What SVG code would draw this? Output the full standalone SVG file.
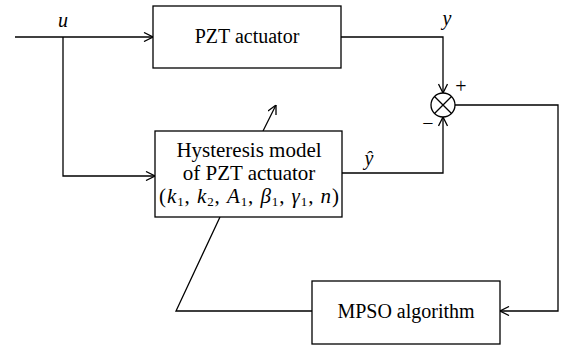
<svg xmlns="http://www.w3.org/2000/svg" width="567" height="347" viewBox="0 0 567 347">
<defs>
<marker id="arr" viewBox="0 0 10 10" refX="10" refY="5" markerWidth="10" markerHeight="10" markerUnits="userSpaceOnUse" orient="auto">
<path d="M1,0.5 L10,5 L1,9.5" fill="none" stroke="#000" stroke-width="1.3"/>
</marker>
</defs>
<style>
.box{fill:#fff;stroke:#000;stroke-width:1.3}
.ln{fill:none;stroke:#000;stroke-width:1.3}
.t{font-family:"Liberation Serif","Times New Roman",serif;font-size:20px;fill:#000;text-anchor:middle}
.h{font-size:21px}
.i{font-style:italic}
.s{font-size:13px}
</style>
<g id="connectors">
<path class="ln" d="M15,37 H153" marker-end="url(#arr)"/>
<path class="ln" d="M63,37 V176 H155" marker-end="url(#arr)"/>
<path class="ln" d="M341,37 H443 V93" marker-end="url(#arr)"/>
<path class="ln" d="M342,173 H443 V117" marker-end="url(#arr)"/>
<path class="ln" d="M455,105 H558 V311 H500" marker-end="url(#arr)"/>
<path class="ln" d="M312,311 H176 L220,217"/>
<path class="ln" d="M263,131 L276,105" marker-end="url(#arr)"/>
</g>
<g id="pzt">
<rect class="box" x="153" y="6" width="188" height="62"/>
<text class="t" x="247" y="43">PZT actuator</text>
</g>
<g id="hyst">
<rect class="box" x="155" y="131" width="187" height="86"/>
<text class="t h" x="249" y="157">Hysteresis model</text>
<text class="t h" x="249" y="180">of PZT actuator</text>
<text class="t h" x="249" y="203" textLength="180" lengthAdjust="spacing">(<tspan class="i">k</tspan><tspan class="s" dy="3">1</tspan><tspan dy="-3">, </tspan><tspan class="i">k</tspan><tspan class="s" dy="3">2</tspan><tspan dy="-3">, </tspan><tspan class="i">A</tspan><tspan class="s" dy="3">1</tspan><tspan dy="-3">, </tspan><tspan class="i">β</tspan><tspan class="s" dy="3">1</tspan><tspan dy="-3">, </tspan><tspan class="i">γ</tspan><tspan class="s" dy="3">1</tspan><tspan dy="-3">, </tspan><tspan class="i">n</tspan>)</text>
</g>
<g id="sum">
<circle class="ln" cx="443" cy="105" r="12"/>
<path class="ln" d="M434.5,96.5 L451.5,113.5 M451.5,96.5 L434.5,113.5"/>
<text class="t" x="461" y="93">+</text>
<text class="t" x="428" y="130">−</text>
</g>
<g id="mpso">
<rect class="box" x="312" y="281" width="188" height="63"/>
<text class="t" x="406" y="318">MPSO algorithm</text>
</g>
<g id="labels">
<text class="t i" x="63" y="27">u</text>
<text class="t i" x="447" y="25">y</text>
<text class="t i" x="369" y="165">ŷ</text>
</g>
</svg>
